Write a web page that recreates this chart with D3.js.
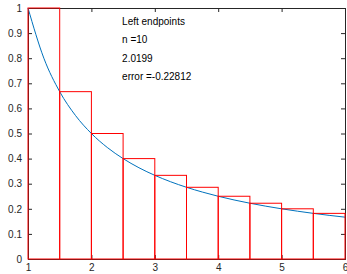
<!DOCTYPE html>
<html>
<head>
<meta charset="utf-8">
<script src="https://cdn.jsdelivr.net/npm/d3@7"></script>
<style>
  body { margin: 0; background: #fff; }
  text { font-family: "Liberation Sans", Arial, sans-serif; }
</style>
</head>
<body>
<div id="chart"></div>
<script>
// left endpoints of each subinterval and the rectangle heights
let leftX = [1, 1.5, 2, 2.5, 3, 3.5, 4, 4.5, 5, 5.5];
let heights = [1, 0.6667, 0.5, 0.4, 0.3333, 0.2857, 0.25, 0.2222, 0.2, 0.1818];
let barWidth = 0.5;

// the curve
let curveX = [1, 1.25, 1.5, 1.75, 2, 2.25, 2.5, 2.75, 3, 3.25, 3.5, 3.75, 4, 4.25, 4.5, 4.75, 5, 5.25, 5.5, 5.75, 6];
let curveY = [1, 0.8, 0.6667, 0.5714, 0.5, 0.4444, 0.4, 0.3636, 0.3333, 0.3077, 0.2857, 0.2667, 0.25, 0.2353, 0.2222, 0.2105, 0.2, 0.1905, 0.1818, 0.1739, 0.1667];

let xTicks = [1, 2, 3, 4, 5, 6];
let yTicks = [0, 0.1, 0.2, 0.3, 0.4, 0.5, 0.6, 0.7, 0.8, 0.9, 1];
let labels = ['Left endpoints', 'n =10', '2.0199', 'error =-0.22812'];

let margin = ({top: 8, right: 2, bottom: 15, left: 28});
let W = 347, H = 274;
let width = W - margin.left - margin.right;
let height = H - margin.top - margin.bottom;

let svg = d3.select('#chart').append('svg')
    .attr('width', W)
    .attr('height', H);

let g = svg.append('g')
    .attr('transform', `translate(${margin.left}, ${margin.top})`);

let x = d3.scaleLinear().domain([1, 6]).range([0, width]);
let y = d3.scaleLinear().domain([0, 1]).range([height, 0]);

let axisColor = '#262626';
let tickLen = 4;

// axes with inward ticks, box on all sides
let xBottom = d3.axisBottom(x).tickValues(xTicks).tickSize(-tickLen).tickPadding(5).tickFormat(d3.format('d'));
let xTop = d3.axisTop(x).tickValues(xTicks).tickSize(-tickLen).tickFormat('');
let yLeft = d3.axisLeft(y).tickValues(yTicks).tickSize(-tickLen).tickPadding(6)
    .tickFormat(d => d === 0 || d === 1 ? d3.format('d')(d) : d3.format('.1f')(d));
let yRight = d3.axisRight(y).tickValues(yTicks).tickSize(-tickLen).tickFormat('');

function styleAxis(sel) {
    sel.select('.domain').attr('stroke', axisColor).attr('stroke-width', 1);
    sel.selectAll('.tick line').attr('stroke', axisColor);
    sel.selectAll('.tick text').attr('fill', axisColor).style('font-size', '10px');
}

g.append('g').attr('transform', `translate(0, ${height})`).call(xBottom).call(styleAxis);
g.append('g').call(xTop).call(styleAxis);
g.append('g').call(yLeft).call(styleAxis);
g.append('g').attr('transform', `translate(${width}, 0)`).call(yRight).call(styleAxis);

// curve
let line = d3.line()
    .x((d, i) => x(curveX[i]))
    .y(d => y(d))
    .curve(d3.curveMonotoneX);

g.append('path')
    .datum(curveY)
    .attr('fill', 'none')
    .attr('stroke', '#0072BD')
    .attr('stroke-width', 1)
    .attr('d', line);

// rectangles
g.selectAll('.bar')
    .data(heights)
    .enter().append('rect')
    .attr('class', 'bar')
    .attr('x', (d, i) => x(leftX[i]))
    .attr('y', d => y(d))
    .attr('width', (d, i) => x(leftX[i] + barWidth) - x(leftX[i]))
    .attr('height', d => y(0) - y(d))
    .attr('fill', 'none')
    .attr('stroke', '#ff0000')
    .attr('stroke-width', 1);

// annotation text
g.selectAll('.note')
    .data(labels)
    .enter().append('text')
    .attr('class', 'note')
    .attr('x', x(2.5) - 1)
    .attr('y', (d, i) => 16.5 + i * 18.5)
    .attr('fill', '#000')
    .style('font-size', '10px')
    .text(d => d);
</script>
</body>
</html>
